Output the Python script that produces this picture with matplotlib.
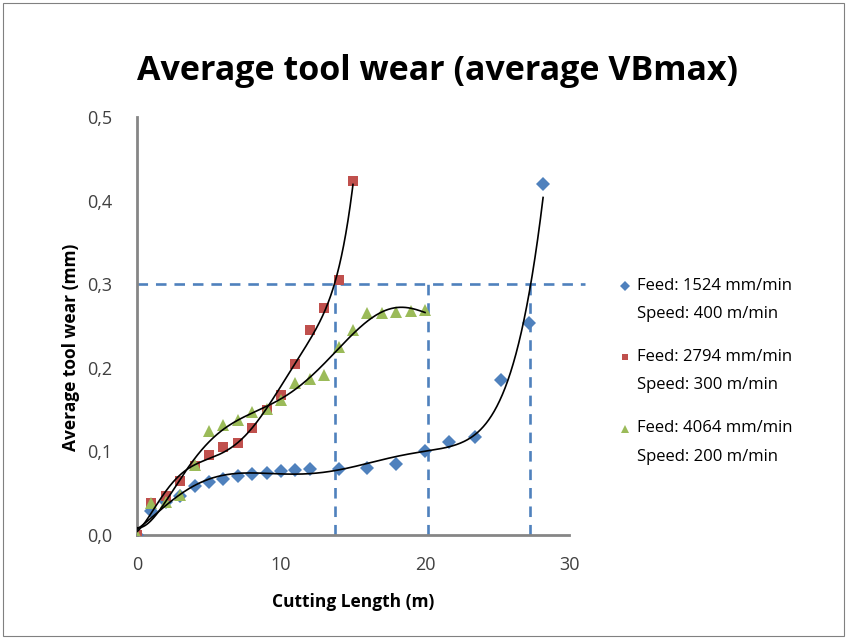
import numpy as np
import matplotlib
matplotlib.use("Agg")
import matplotlib.pyplot as plt
from matplotlib.patches import Rectangle
from matplotlib.legend_handler import HandlerLine2D

plt.rcParams['font.family'] = ['Open Sans', 'DejaVu Sans']

# cutting length (m) and average VBmax (mm) per test
blue_x = [0, 1, 2, 3, 4, 5, 6, 7, 8, 9, 10, 11, 12, 14, 16, 18, 20, 21.7, 23.5, 25.3, 27.2, 28.2]
blue_y = [0, 0.029, 0.040, 0.047, 0.059, 0.063, 0.067, 0.071, 0.073, 0.074, 0.076, 0.078, 0.079,
          0.079, 0.080, 0.085, 0.101, 0.111, 0.117, 0.185, 0.254, 0.420]

red_x = [0, 1, 2, 3, 4, 5, 6, 7, 8, 9, 10, 11, 12, 13, 14, 15]
red_y = [0, 0.038, 0.047, 0.065, 0.082, 0.096, 0.105, 0.110, 0.128, 0.150, 0.168, 0.205,
         0.245, 0.272, 0.305, 0.424]

green_x = [0, 1, 2, 3, 4, 5, 6, 7, 8, 9, 10, 11, 12, 13, 14, 15, 16, 17, 18, 19, 20]
green_y = [0, 0.038, 0.040, 0.048, 0.084, 0.124, 0.131, 0.137, 0.147, 0.151, 0.161, 0.182,
           0.186, 0.191, 0.225, 0.245, 0.265, 0.266, 0.267, 0.268, 0.269]

labels = ["Feed: 1524 mm/min\nSpeed: 400 m/min",
          "Feed: 2794 mm/min\nSpeed: 300 m/min",
          "Feed: 4064 mm/min\nSpeed: 200 m/min"]

# wear limit and the lengths where it is reached
limit = 0.3
limit_x = [13.75, 20.2, 27.3]

BLUE = '#4F81BD'
RED = '#C0504D'
GREEN = '#9BBB59'
AXIS = '#868686'


class FirstLineHandler(HandlerLine2D):
    # put the legend marker next to the first text line instead of the last one
    def create_artists(self, legend, orig_handle, xdescent, ydescent, width, height,
                       fontsize, trans):
        arts = super().create_artists(legend, orig_handle, xdescent, ydescent, width,
                                      height, fontsize, trans)
        for a in arts:
            a.set_ydata(np.asarray(a.get_ydata()) + 10)
        return arts


fig = plt.figure(figsize=(8.47, 6.39), dpi=100)
fig.patches.append(Rectangle((0.004, 0.004), 0.992, 0.992, transform=fig.transFigure,
                             fill=False, edgecolor='#808080', linewidth=0.8))
ax = fig.add_axes([0.1617, 0.1628, 0.5101, 0.6541])

series = [(blue_x, blue_y, 'D', BLUE, 7),
          (red_x, red_y, 's', RED, 6.5),
          (green_x, green_y, '^', GREEN, 8.5)]

# limit lines
ax.plot([0, 31.1], [limit, limit], color=BLUE, lw=1.9, dashes=(4, 3), clip_on=False, zorder=1)
for lx in limit_x:
    ax.plot([lx, lx], [0, limit], color=BLUE, lw=1.9, dashes=(4, 3), zorder=1)

handles = []
for (xs, ys, mk, col, ms), lab in zip(series, labels):
    h, = ax.plot(xs, ys, linestyle='none', marker=mk, color=col, markersize=ms,
                 markeredgewidth=0, label=lab, zorder=3)
    handles.append(h)

# polynomial trendlines (like excel, order 6)
for xs, ys, mk, col, ms in series:
    coef = np.polyfit(xs, ys, 6)
    xx = np.linspace(0, max(xs), 300)
    ax.plot(xx, np.polyval(coef, xx), color='black', lw=1.2, zorder=4)

ax.set_xlim(0, 30)
ax.set_ylim(0, 0.5)
ax.set_xticks([0, 10, 20, 30])
ax.set_yticks([0, 0.1, 0.2, 0.3, 0.4, 0.5])
ax.set_yticklabels([f"{v:.1f}".replace('.', ',') for v in ax.get_yticks()])
ax.tick_params(length=0, labelsize=13, colors='#404040')
ax.tick_params(axis='x', pad=15)
ax.tick_params(axis='y', pad=18)
for s in ['top', 'right']:
    ax.spines[s].set_visible(False)
for s in ['left', 'bottom']:
    ax.spines[s].set_color(AXIS)
    ax.spines[s].set_linewidth(2)

ax.set_xlabel("Cutting Length (m)", fontsize=12.5, fontweight='bold')
ax.set_ylabel("Average tool wear (mm)", fontsize=12.5, fontweight='bold')
ax.xaxis.set_label_coords(0.5, -0.14)
ax.yaxis.set_label_coords(-0.132, 0.45)

fig.text(0.516, 0.889, "Average tool wear (average VBmax)", fontsize=24.5, fontweight='bold',
         ha='center', va='center')

leg = fig.legend(handles=handles, loc='upper left', bbox_to_anchor=(0.714, 0.589),
                 frameon=False, fontsize=12, handlelength=0.6, handletextpad=0.45,
                 labelspacing=1.6, markerscale=0.75,
                 handler_map={h: FirstLineHandler() for h in handles})
for t in leg.get_texts():
    t.set_linespacing(2.05)

fig.savefig("out.png", dpi=100)
